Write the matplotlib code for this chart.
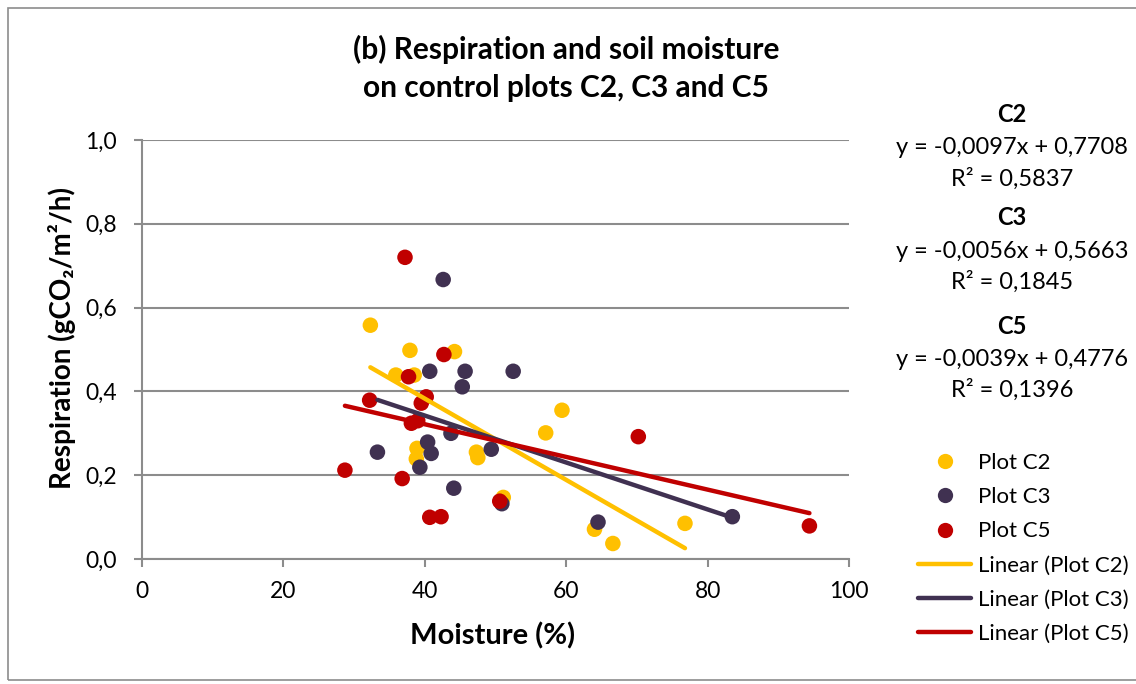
import numpy as np
import matplotlib
matplotlib.use("Agg")
import matplotlib.pyplot as plt
from matplotlib.lines import Line2D
from matplotlib.patches import Rectangle

# # DATA
c2_x = [32.3, 37.9, 44.2, 35.9, 38.5, 59.4, 57.1, 38.9, 38.8, 47.3, 47.5, 51.1, 64.0, 66.6, 76.8]
c2_y = [0.558, 0.498, 0.495, 0.439, 0.439, 0.355, 0.301, 0.264, 0.239, 0.255, 0.242, 0.147, 0.071, 0.037, 0.085]

c3_x = [42.6, 40.7, 45.7, 52.5, 45.3, 43.7, 40.4, 40.9, 33.3, 39.3, 49.4, 44.1, 50.9, 64.5, 83.5]
c3_y = [0.667, 0.448, 0.448, 0.448, 0.411, 0.300, 0.279, 0.252, 0.255, 0.219, 0.262, 0.169, 0.132, 0.088, 0.101]

c5_x = [37.2, 42.7, 37.7, 40.2, 39.5, 32.2, 38.1, 39.0, 28.7, 36.8, 50.6, 40.7, 42.3, 70.2, 94.4]
c5_y = [0.720, 0.488, 0.435, 0.387, 0.372, 0.379, 0.324, 0.330, 0.212, 0.192, 0.138, 0.0995, 0.101, 0.292, 0.079]

# trendline coefficients as printed on the chart
slopes = {"C2": -0.0097, "C3": -0.0056, "C5": -0.0039}
intercepts = {"C2": 0.7708, "C3": 0.5663, "C5": 0.4776}
r2 = {"C2": 0.5837, "C3": 0.1845, "C5": 0.1396}

x_ticks = [0, 20, 40, 60, 80, 100]
y_ticks = [0.0, 0.2, 0.4, 0.6, 0.8, 1.0]

colors = {"C2": "#FFC000", "C3": "#403151", "C5": "#C00000"}
series = {"C2": (c2_x, c2_y), "C3": (c3_x, c3_y), "C5": (c5_x, c5_y)}

FONT = ["Lato", "DejaVu Sans"]
plt.rcParams["font.family"] = FONT

W, H = 1136, 684
GREY = "#8c8c8c"
fig = plt.figure(figsize=(W / 100, H / 100), dpi=100)

# outer chart frame
fig.patches.append(Rectangle((8 / W, 4 / H), 1.2, (H - 12) / H, transform=fig.transFigure,
                             fill=False, edgecolor=GREY, linewidth=1.2))

ax = fig.add_axes([142 / W, (H - 559) / H, 707 / W, 419 / H])

order = ["C2", "C3", "C5"]
for k in order:
    xs, ys = series[k]
    ax.scatter(xs, ys, s=125, color=colors[k], edgecolors="none", zorder=3)

for k in order:
    xs, ys = series[k]
    xl = np.array([min(xs), max(xs)])
    ax.plot(xl, slopes[k] * xl + intercepts[k], color=colors[k], lw=3.2,
            solid_capstyle="round", zorder=4)

ax.set_xlim(0, 100)
ax.set_ylim(0, 1.0)
ax.set_xticks(x_ticks)
ax.set_yticks(y_ticks)
ax.set_xticklabels([str(v) for v in x_ticks])
ax.set_yticklabels([("%.1f" % v).replace(".", ",") for v in y_ticks])
ax.tick_params(axis="both", labelsize=16.5, color=GREY, length=6, width=1.5, direction="out")
ax.tick_params(axis="x", pad=10)
ax.tick_params(axis="y", pad=12)

for s in ["top", "right"]:
    ax.spines[s].set_visible(False)
for s in ["left", "bottom"]:
    ax.spines[s].set_color(GREY)
    ax.spines[s].set_linewidth(1.5)
ax.grid(axis="y", color=GREY, linewidth=1.5)
ax.set_axisbelow(True)

ax.set_xlabel("Moisture (%)", fontsize=21, fontweight="bold")
ax.xaxis.label.set_va("center")
ax.xaxis.set_label_coords(0.496, (559 - 636) / 419)
ax.set_ylabel("Respiration (gCO\u2082/m\u00b2/h)", fontsize=20, fontweight="bold")
ax.yaxis.label.set_va("center")
ax.yaxis.set_label_coords((62 - 142) / 707, (559 - 338) / 419)

fig.text(566 / W, 1 - 49 / H, "(b) Respiration and soil moisture", ha="center", va="center",
         fontsize=21.5, fontweight="bold")
fig.text(566 / W, 1 - 88 / H, "on control plots C2, C3 and C5", ha="center", va="center",
         fontsize=21.5, fontweight="bold")

# equation block on the right
ys_title = {"C2": 115, "C3": 218, "C5": 326}
for k in order:
    y0 = ys_title[k]
    fig.text(1012 / W, 1 - y0 / H, k, ha="center", va="center", fontsize=17, fontweight="bold")
    eq = "y = %sx + %s" % (("%.4f" % slopes[k]).replace(".", ","),
                           ("%.4f" % intercepts[k]).replace(".", ","))
    fig.text(1012 / W, 1 - (y0 + 33) / H, eq, ha="center", va="center", fontsize=17)
    fig.text(1012 / W, 1 - (y0 + 64) / H, "R\u00b2 = " + ("%.4f" % r2[k]).replace(".", ","),
             ha="center", va="center", fontsize=17)

handles = []
labels = []
for k in order:
    handles.append(Line2D([], [], ls="none", marker="o", markersize=11,
                          markerfacecolor=colors[k], markeredgecolor="none"))
    labels.append("Plot " + k)
for k in order:
    handles.append(Line2D([], [], color=colors[k], lw=3.2, solid_capstyle="round"))
    labels.append("Linear (Plot %s)" % k)

fig.legend(handles, labels, loc="upper left", bbox_to_anchor=(918 / W, 1 - 453 / H),
           frameon=False, fontsize=16, handlelength=2.4, handletextpad=0.3,
           labelspacing=0.64, borderaxespad=0, borderpad=0)

fig.savefig("out.png", dpi=100)
